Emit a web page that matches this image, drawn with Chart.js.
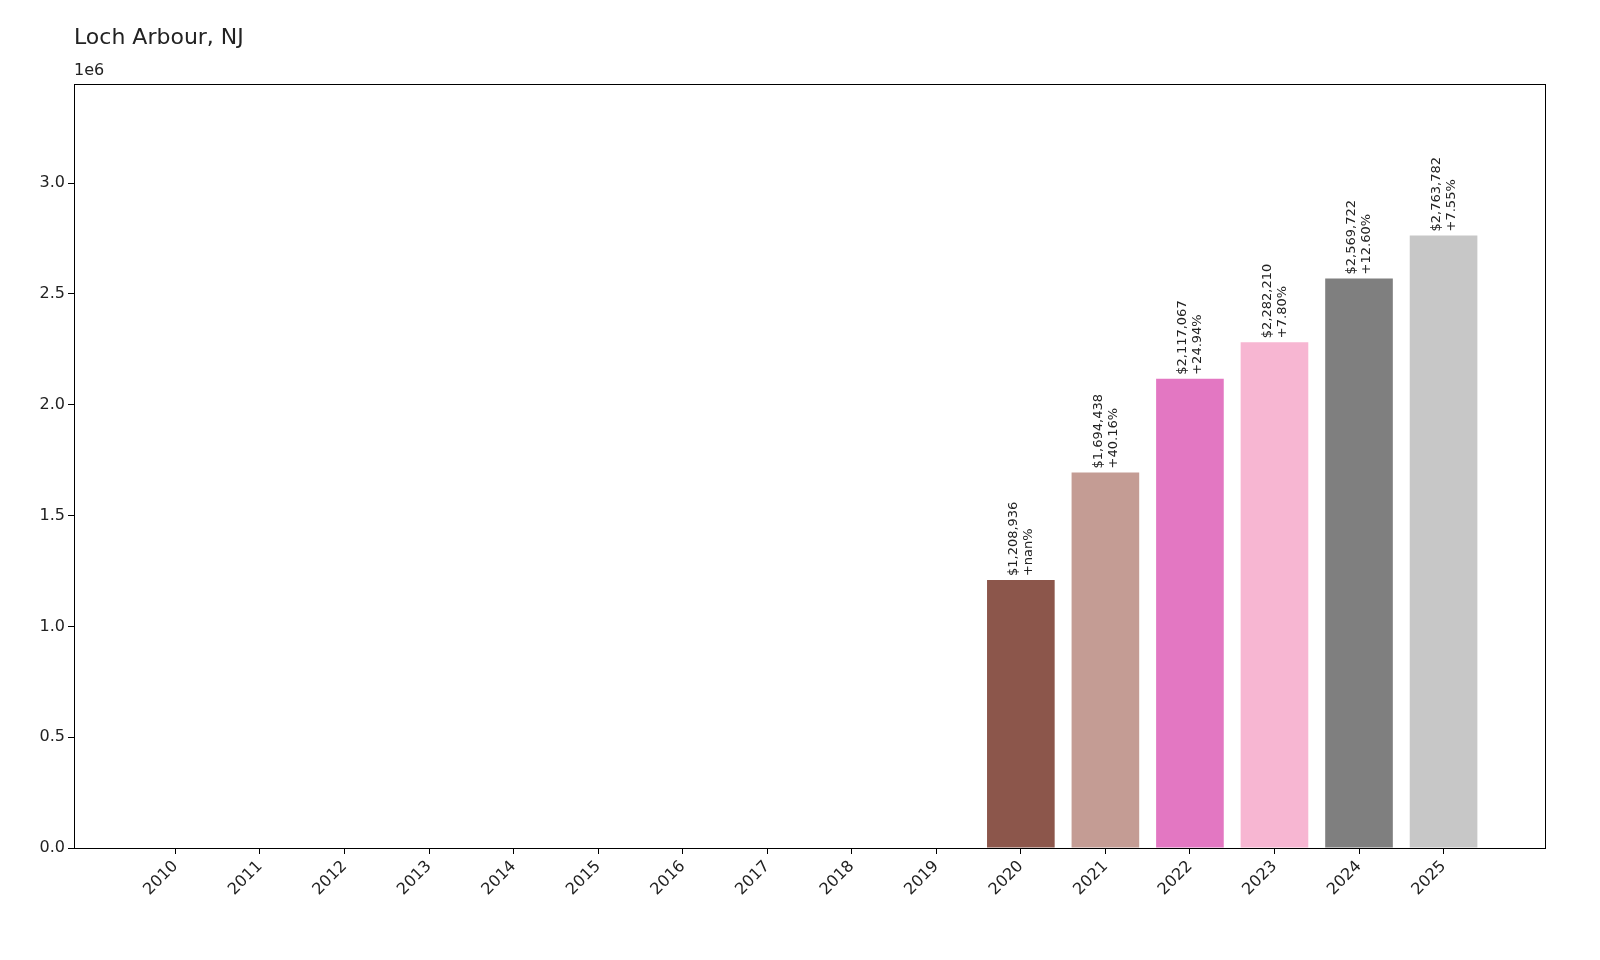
<!DOCTYPE html>
<html>
<head>
<meta charset="utf-8">
<script src="https://cdn.jsdelivr.net/npm/chart.js@4"></script>
<style>
  html, body { margin: 0; padding: 0; background: #fff; overflow: hidden; }
  #wrap { width: 1600px; height: 960px; }
</style>
</head>
<body>
<div id="wrap"><canvas id="chart"></canvas></div>
<script>
'use strict';

// --- Data ---
const years = [2010, 2011, 2012, 2013, 2014, 2015, 2016, 2017, 2018, 2019, 2020, 2021, 2022, 2023, 2024, 2025];
const values = [0, 0, 0, 0, 0, 0, 0, 0, 0, 0, 1208936, 1694438, 2117067, 2282210, 2569722, 2763782];
const changes = ['', '', '', '', '', '', '', '', '', '', '+nan%', '+40.16%', '+24.94%', '+7.80%', '+12.60%', '+7.55%'];
const barColors = ['#1f77b4', '#aec7e8', '#ff7f0e', '#ffbb78', '#2ca02c', '#98df8a', '#d62728', '#ff9896',
  '#9467bd', '#c5b0d5', '#8c564b', '#c49c94', '#e377c2', '#f7b6d2', '#7f7f7f', '#c7c7c7'];
const yTicks = [0, 500000, 1000000, 1500000, 2000000, 2500000, 3000000];

const FONT = 'DejaVu Sans';

// --- Labels, frame and title ---
const decorPlugin = {
  id: 'decor',
  afterDatasetsDraw(chart) {
    const ctx = chart.ctx;
    const x = chart.scales.x, y = chart.scales.y;
    const a = chart.chartArea;
    ctx.save();
    ctx.strokeStyle = '#000';
    ctx.lineWidth = 1;
    ctx.strokeRect(a.left + 0.5, a.top + 0.5, a.right - a.left, a.bottom - a.top);

    ctx.fillStyle = '#222';
    ctx.font = '13px ' + FONT;
    ctx.textAlign = 'left';
    ctx.textBaseline = 'middle';
    values.forEach((v, i) => {
      if (!v) return;
      const cx = x.getPixelForValue(years[i]);
      const top = y.getPixelForValue(v) - 4;
      const money = '$' + v.toLocaleString('en-US');
      ctx.save();
      ctx.translate(cx, top);
      ctx.rotate(-Math.PI / 2);
      ctx.fillText(money, 0, -7);
      ctx.fillText(changes[i], 0, 8);
      ctx.restore();
    });

    ctx.fillStyle = '#222';
    ctx.font = '22px ' + FONT;
    ctx.textBaseline = 'alphabetic';
    ctx.fillText('Loch Arbour, NJ', 74, 44);
    ctx.font = '16px ' + FONT;
    ctx.fillText('1e6', 74, 75);
    ctx.restore();
  }
};

new Chart(document.getElementById('chart').getContext('2d'), {
  type: 'bar',
  data: {
    datasets: [{
      data: years.map((yr, i) => ({ x: yr, y: values[i] })),
      backgroundColor: barColors,
      barPercentage: 0.8,
      categoryPercentage: 1.0
    }]
  },
  options: {
    responsive: true,
    maintainAspectRatio: false,
    animation: false,
    layout: { padding: { top: 84, right: 55, left: 0, bottom: 0 } },
    plugins: { legend: { display: false }, tooltip: { enabled: false } },
    scales: {
      x: {
        type: 'linear',
        min: 2008.8,
        max: 2026.2,
        offset: false,
        afterBuildTicks: axis => { axis.ticks = years.map(v => ({ value: v })); },
        afterFit: axis => { axis.height = 112; },
        grid: { drawOnChartArea: false, offset: false, tickLength: 6, color: '#000' },
        border: { display: false },
        ticks: {
          color: '#222',
          font: { family: FONT, size: 16 },
          maxRotation: 45,
          minRotation: 45,
          callback: v => String(v)
        }
      },
      y: {
        min: 0,
        max: 3447000,
        afterBuildTicks: axis => { axis.ticks = yTicks.map(v => ({ value: v })); },
        afterFit: axis => { axis.width = 74; },
        grid: { drawOnChartArea: false, tickLength: 6, color: '#000' },
        border: { display: false },
        ticks: {
          color: '#222',
          font: { family: FONT, size: 16 },
          callback: v => (v / 1e6).toFixed(1)
        }
      }
    }
  },
  plugins: [decorPlugin]
});
</script>
</body>
</html>
